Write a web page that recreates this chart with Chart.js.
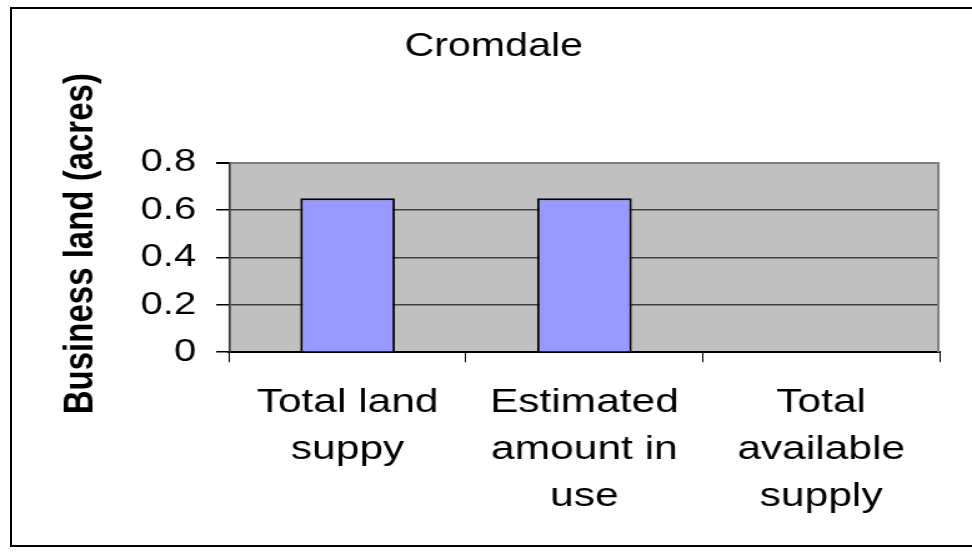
<!DOCTYPE html>
<html>
<head>
<meta charset="utf-8">
<script src="https://cdn.jsdelivr.net/npm/chart.js@4/dist/chart.umd.min.js"></script>
<style>
  html, body { margin: 0; padding: 0; background: #fff; overflow: hidden; }
  #frame { position: absolute; left: 10px; top: 7px; width: 990px; height: 540px; border: 2px solid #000; box-sizing: border-box; }
  /* the original picture is stretched sideways, so draw narrow and scale */
  #wrap { position: absolute; left: 0; top: 0; width: 778px; height: 555px; transform: scaleX(1.2494); transform-origin: 0 0; }
</style>
</head>
<body>
<div id="frame"></div>
<div id="wrap"><canvas id="landChart"></canvas></div>
<script>
// chart data
const categories = [
  ['Total land', 'suppy'],
  ['Estimated', 'amount in', 'use'],
  ['Total', 'available', 'supply']
];
const landValues = [0.65, 0.65, 0];
const yMin = 0;
const yMax = 0.8;
const yStep = 0.2;

const fontFamily = "'Liberation Sans', Arial, sans-serif";

// grey plot background + grey right edge like the excel chart
const plotArea = {
  id: 'plotArea',
  beforeDraw(chart) {
    const { ctx, chartArea: a } = chart;
    ctx.save();
    ctx.fillStyle = '#C0C0C0';
    ctx.fillRect(a.left, a.top, a.right - a.left, a.bottom - a.top);
    ctx.restore();
  },
  afterDraw(chart) {
    const { ctx, chartArea: a } = chart;
    ctx.save();
    ctx.strokeStyle = '#808080';
    ctx.lineWidth = 2;
    ctx.beginPath();
    ctx.moveTo(a.right - 1, a.top);
    ctx.lineTo(a.right - 1, a.bottom);
    ctx.stroke();
    ctx.restore();
  }
};

const ctx = document.getElementById('landChart').getContext('2d');
const landChart = new Chart(ctx, {
  type: 'bar',
  data: {
    labels: categories,
    datasets: [{
      label: 'Business land',
      data: landValues,
      backgroundColor: '#9999FF',
      borderColor: '#000000',
      borderWidth: 2,
      categoryPercentage: 1,
      barPercentage: 0.4
    }]
  },
  options: {
    responsive: true,
    maintainAspectRatio: false,
    animation: false,
    layout: { padding: { left: 38.4, right: 26, top: 0, bottom: 18 } },
    plugins: {
      legend: { display: false },
      tooltip: { enabled: false },
      title: {
        display: true,
        text: 'Cromdale',
        color: '#000',
        font: { family: fontFamily, size: 33, weight: 'normal' },
        padding: { top: 27, bottom: 96 }
      }
    },
    scales: {
      x: {
        grid: {
          drawOnChartArea: false,
          drawTicks: true,
          tickLength: 10,
          tickColor: '#000',
          lineWidth: 1
        },
        border: { color: '#000', width: 2 },
        ticks: {
          color: '#000',
          font: { family: fontFamily, size: 34, lineHeight: 1.38 },
          padding: 17,
          maxRotation: 0,
          minRotation: 0,
          autoSkip: false
        }
      },
      y: {
        min: yMin,
        max: yMax,
        grid: {
          color: c => (c.tick && c.tick.value === yMax ? '#808080' : '#404040'),
          lineWidth: c => (c.tick && c.tick.value === yMax ? 2 : 1.5),
          tickColor: '#000',
          tickLength: 10.5
        },
        border: { color: '#333', width: 1.6 },
        ticks: {
          stepSize: yStep,
          color: '#000',
          padding: 16,
          font: { family: fontFamily, size: 32 }
        },
        title: {
          display: true,
          text: '   Business land (acres)',
          color: '#000',
          font: { family: fontFamily, size: 33, weight: 'bold' },
          padding: { top: 7, bottom: 11.5 }
        }
      }
    }
  },
  plugins: [plotArea]
});
</script>
</body>
</html>
